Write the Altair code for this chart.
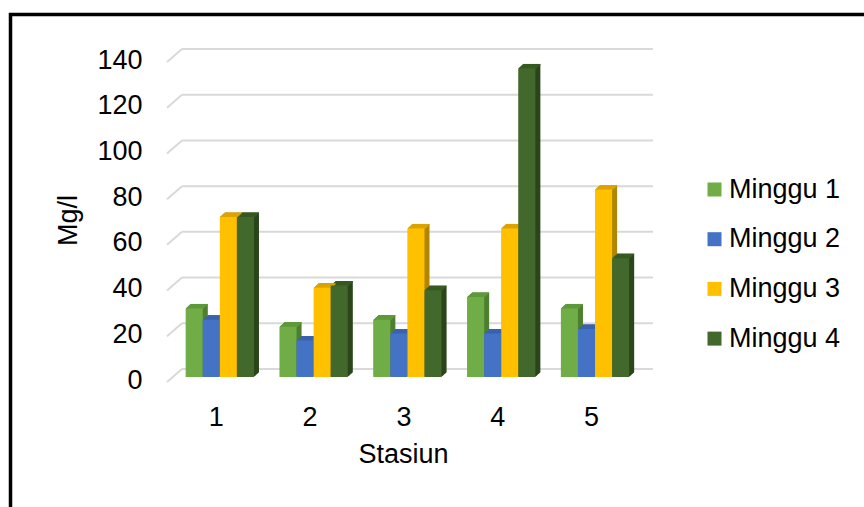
import altair as alt
import pandas as pd

# --- data -------------------------------------------------------------
stasiun = [1, 2, 3, 4, 5]
seri = ["Minggu 1", "Minggu 2", "Minggu 3", "Minggu 4"]
minggu_1 = [30, 22, 25, 35, 30]
minggu_2 = [25, 16, 19, 19, 21]
minggu_3 = [70, 39, 65, 65, 82]
minggu_4 = [70, 40, 38, 135, 52]
y_ticks = [0, 20, 40, 60, 80, 100, 120, 140]

# face colours of the pseudo-3D columns
warna_depan = ["#70AD47", "#4472C4", "#FFC000", "#43682B"]
warna_atas = ["#5F9A3A", "#3A63AE", "#DDA500", "#385A23"]
warna_samping = ["#4D7F2E", "#2F5597", "#B08500", "#2B451B"]

FONT = "Liberation Sans"
FS = 27
BAR = 0.182                      # column width, in station units
X_DOMAIN = [0.437, 5.618]
DEPTH = [0.5 * i for i in range(1, 11)]   # extrusion steps (px)
SLOPE = 0.9

rows = []
for k, (nama, nilai) in enumerate(zip(seri, [minggu_1, minggu_2, minggu_3, minggu_4])):
    for s, v in zip(stasiun, nilai):
        kiri = s + (k - 2) * BAR
        rows.append({
            "Stasiun": s, "Seri": nama, "Nilai": v,
            "x0": kiri, "x1": kiri + BAR, "base": 0,
            "c_atas": warna_atas[k], "c_samping": warna_samping[k],
        })
df = pd.DataFrame(rows)

grid_df = pd.DataFrame({"Nilai": y_ticks, "x0": X_DOMAIN[0], "x1": X_DOMAIN[1]})

xs = alt.Scale(domain=X_DOMAIN, nice=False, zero=False)
ys = alt.Scale(domain=[0, 140], nice=False)

x_axis = alt.Axis(
    values=stasiun, format="d", title="Stasiun",
    domain=False, ticks=False, grid=False,
    labelFont=FONT, labelFontSize=FS, labelColor="black",
    labelPadding=27, labelOffset=-4,
    titleFont=FONT, titleFontSize=FS, titleFontWeight="normal",
    titleColor="black", titlePadding=11, titleX=236,
)
y_axis = alt.Axis(
    values=y_ticks, title="Mg/l",
    domain=False, ticks=False, grid=False,
    labelFont=FONT, labelFontSize=FS, labelColor="black",
    labelPadding=25, labelOffset=3,
    titleFont=FONT, titleFontSize=FS, titleFontWeight="normal",
    titleColor="black", titlePadding=14, titleY=163,
)


def pos_x():
    return alt.X("x0:Q", scale=xs, axis=x_axis)


def pos_y():
    return alt.Y("Nilai:Q", scale=ys, axis=y_axis)


# --- back-wall gridlines and their floor connectors -----------------
grid = alt.Chart(grid_df).mark_rule(
    color="#D9D9D9", strokeWidth=2, xOffset=15, yOffset=-8, y2Offset=-8
).encode(x=pos_x(), x2="x1:Q", y=pos_y(), y2="Nilai:Q")

connectors = alt.Chart(grid_df).mark_rule(
    color="#D9D9D9", strokeWidth=2, x2Offset=15, yOffset=5, y2Offset=-8
).encode(x=pos_x(), x2="x0:Q", y=pos_y(), y2="Nilai:Q")

# --- column side faces (stacked offsets form the extrusion) ----------
sides = [
    alt.Chart(df).mark_rect(xOffset=d, x2Offset=d, yOffset=-SLOPE * d, y2Offset=-SLOPE * d).encode(
        x=pos_x(), x2="x1:Q", y=pos_y(), y2="base:Q",
        color=alt.Color("c_samping:N", scale=None),
    )
    for d in DEPTH
]

# --- column top faces -------------------------------------------------
tops = [
    alt.Chart(df).mark_rect(xOffset=d, x2Offset=d, yOffset=-SLOPE * d, y2Offset=-SLOPE * d + 1).encode(
        x=pos_x(), x2="x1:Q", y=pos_y(), y2="Nilai:Q",
        color=alt.Color("c_atas:N", scale=None),
    )
    for d in DEPTH
]

# --- column front faces with legend ----------------------------------
front = alt.Chart(df).mark_rect().encode(
    x=pos_x(), x2="x1:Q", y=pos_y(), y2="base:Q",
    color=alt.Color(
        "Seri:N",
        scale=alt.Scale(domain=seri, range=warna_depan),
        legend=alt.Legend(
            title=None, orient="none", legendX=534, legendY=119, padding=0,
            symbolType="square", symbolSize=196, symbolStrokeWidth=0,
            labelFont=FONT, labelFontSize=FS, labelColor="black",
            labelOffset=1, rowPadding=21.7,
        ),
    ),
)

# --- outer frame ------------------------------------------------------
frame = alt.Chart(alt.Data(values=[{}])).mark_rect(
    filled=False, stroke="black", strokeWidth=3.5
).encode(
    x=alt.value(-156.5), x2=alt.value(720),
    y=alt.value(-42.5), y2=alt.value(470),
)

chart = alt.layer(grid, connectors, *sides, *tops, front, frame).properties(
    width=486, height=320,
    padding={"left": 167, "top": 57, "right": 211, "bottom": 130},
    autosize="none",
    background="white",
).configure(font=FONT).configure_view(stroke=None)

chart.save("out.html", embed_options={"renderer": "svg", "actions": False})
